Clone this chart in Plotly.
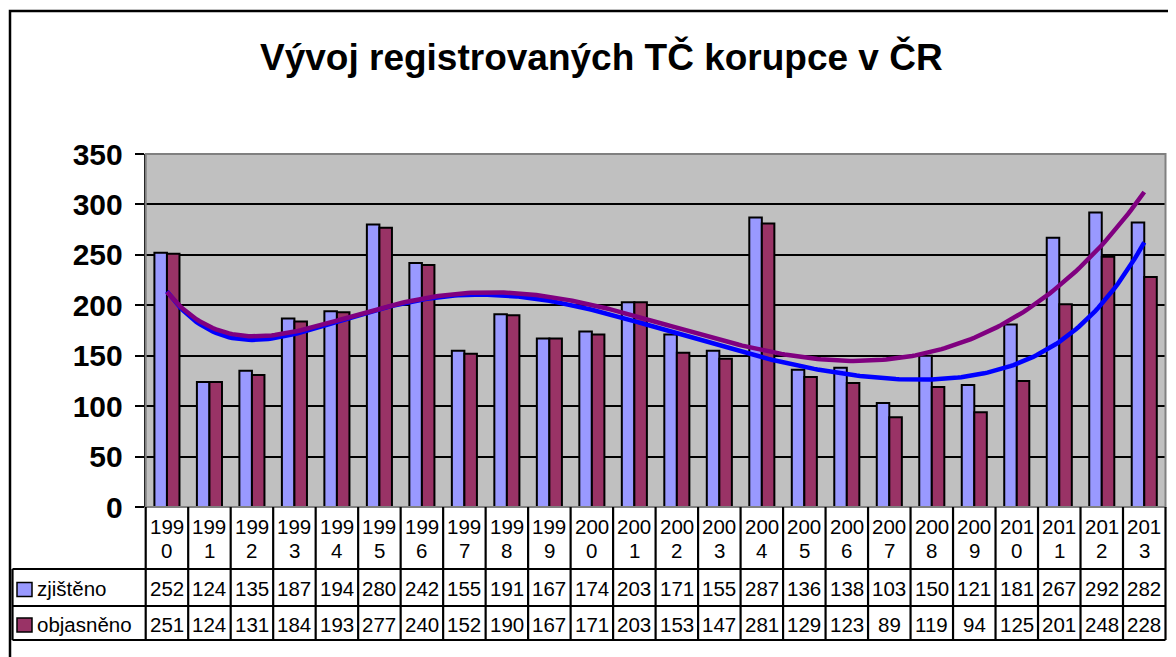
import numpy as np
import plotly.graph_objects as go

years = [str(y) for y in range(1990, 2014)]
zjisteno = [252, 124, 135, 187, 194, 280, 242, 155, 191, 167, 174, 203,
            171, 155, 287, 136, 138, 103, 150, 121, 181, 267, 292, 282]
objasneno = [251, 124, 131, 184, 193, 277, 240, 152, 190, 167, 171, 203,
             153, 147, 281, 129, 123, 89, 119, 94, 125, 201, 248, 228]
series_names = ["zjištěno", "objasněno"]
title_text = "Vývoj registrovaných TČ korupce v ČR"
y_ticks = [0, 50, 100, 150, 200, 250, 300, 350]
trend_degree = 6

OFF = 8  # page body margin offset
W, H = 1168, 649
PX0, PX1 = 145.7, 1165.5
PY_TOP, PY_BOT = 154.0, 507.0


def px(x):
    return (x - OFF) / W


def py(y):
    return 1 - (y - OFF) / H


n = len(years)
xs = np.arange(n)

fig = go.Figure()
fig.add_trace(go.Bar(x=xs, y=zjisteno, name=series_names[0],
                     marker=dict(color="#9999FF", line=dict(color="black", width=2))))
fig.add_trace(go.Bar(x=xs, y=objasneno, name=series_names[1],
                     marker=dict(color="#993366", line=dict(color="black", width=2))))

# polynomial trendlines (as in the original spreadsheet chart)
xf = np.linspace(0, n - 1, 300)
c_obj = np.polyfit(xs, objasneno, trend_degree)
c_zji = np.polyfit(xs, zjisteno, trend_degree)
fig.add_trace(go.Scatter(x=xf, y=np.polyval(c_obj, xf), mode="lines",
                         line=dict(color="#0000FF", width=4.5), showlegend=False,
                         hoverinfo="skip"))
fig.add_trace(go.Scatter(x=xf, y=np.polyval(c_zji, xf), mode="lines",
                         line=dict(color="#800080", width=4.5), showlegend=False,
                         hoverinfo="skip"))

shapes = []
# outer chart border
shapes.append(dict(type="rect", xref="paper", yref="paper",
                   x0=px(10), x1=px(1195), y0=py(680), y1=py(11),
                   line=dict(color="black", width=2.5)))
# plot border (top/right grey)
shapes.append(dict(type="rect", xref="paper", yref="paper",
                   x0=px(PX0), x1=px(PX1), y0=py(PY_BOT), y1=py(PY_TOP),
                   line=dict(color="#808080", width=2), layer="above"))
# data table lines
col_w = (PX1 - PX0) / n
R0, R1, R2, R3 = 507.0, 569.0, 606.0, 640.0
LX = 12.5
lw = 2.2
for i in range(n + 1):
    xx = PX0 + i * col_w
    shapes.append(dict(type="line", xref="paper", yref="paper",
                       x0=px(xx), x1=px(xx), y0=py(R0), y1=py(R3),
                       line=dict(color="black", width=lw)))
shapes.append(dict(type="line", xref="paper", yref="paper",
                   x0=px(LX), x1=px(LX), y0=py(R1), y1=py(R3),
                   line=dict(color="black", width=lw)))
for yy in [R1, R2, R3]:
    shapes.append(dict(type="line", xref="paper", yref="paper",
                       x0=px(LX), x1=px(PX1), y0=py(yy), y1=py(yy),
                       line=dict(color="black", width=lw)))
# legend keys
row_centers = [(R1 + R2) / 2, (R2 + R3) / 2]
for k, col in enumerate(["#9999FF", "#993366"]):
    cy = row_centers[k] + 2
    shapes.append(dict(type="rect", xref="paper", yref="paper",
                       x0=px(17), x1=px(32), y0=py(cy + 7), y1=py(cy - 7),
                       fillcolor=col, line=dict(color="black", width=1.5)))

annotations = []
font_t = dict(family="Liberation Sans, Arial", size=20.5, color="black")
for i, yr in enumerate(years):
    annotations.append(dict(x=i, xref="x", y=py(526), yref="paper",
                            text=yr[:3], showarrow=False, font=font_t,
                            xanchor="center", yanchor="middle"))
    annotations.append(dict(x=i, xref="x", y=py(550), yref="paper",
                            text=yr[3:], showarrow=False, font=font_t,
                            xanchor="center", yanchor="middle"))
    annotations.append(dict(x=i, xref="x", y=py(row_centers[0] + 1), yref="paper",
                            text=str(zjisteno[i]), showarrow=False, font=font_t,
                            xanchor="center", yanchor="middle"))
    annotations.append(dict(x=i, xref="x", y=py(row_centers[1] + 1), yref="paper",
                            text=str(objasneno[i]), showarrow=False, font=font_t,
                            xanchor="center", yanchor="middle"))
for k, nm in enumerate(series_names):
    annotations.append(dict(x=px(35), xref="paper", y=py(row_centers[k] + 1), yref="paper",
                            text=nm, showarrow=False, font=font_t,
                            xanchor="left", yanchor="middle"))
annotations.append(dict(x=px(601), xref="paper", y=py(57), yref="paper",
                        text=title_text, showarrow=False,
                        font=dict(family="Liberation Sans, Arial", size=37,
                                  color="black", weight="bold"),
                        xanchor="center", yanchor="middle"))

fig.update_layout(
    width=W, height=H,
    margin=dict(l=0, r=0, t=0, b=0, autoexpand=False),
    paper_bgcolor="white",
    plot_bgcolor="#C0C0C0",
    barmode="group", bargap=0.41, bargroupgap=0,
    showlegend=False,
    shapes=shapes,
    annotations=annotations,
    xaxis=dict(domain=[px(PX0), px(PX1)], range=[-0.5, n - 0.5],
               showticklabels=False, showgrid=False, zeroline=False, ticks="",
               automargin=False, fixedrange=True),
    yaxis=dict(domain=[py(PY_BOT), py(PY_TOP)], range=[0, 350],
               tickvals=y_ticks, ticks="outside", ticklen=9, tickwidth=2,
               tickcolor="black", showline=True, linecolor="black", linewidth=2,
               showgrid=True, gridcolor="black", gridwidth=2, zeroline=False,
               tickfont=dict(family="Liberation Sans, Arial", size=30,
                             color="black", weight="bold"),
               ticklabelstandoff=6, automargin=False, fixedrange=True),
)

fig.write_html("out.html")
